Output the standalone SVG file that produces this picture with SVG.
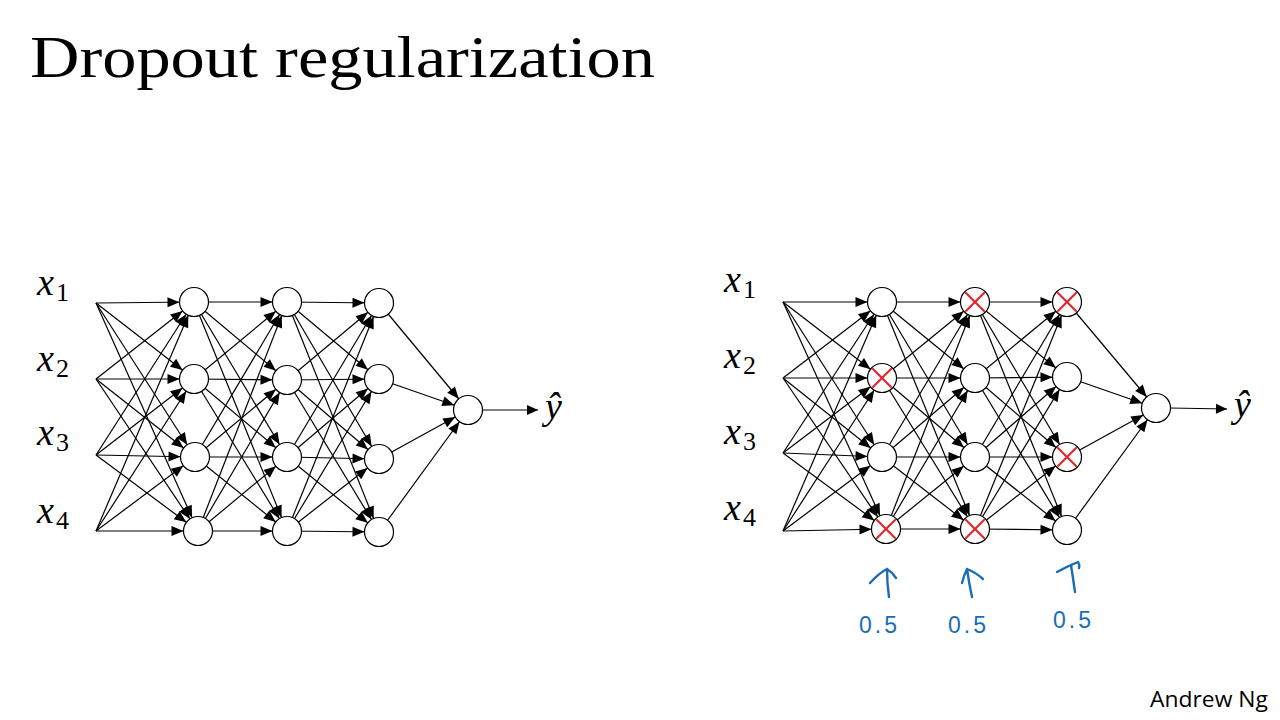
<svg xmlns="http://www.w3.org/2000/svg" width="1280" height="720" viewBox="0 0 1280 720">
<style>
.e{stroke:#000;stroke-width:1.2;fill:none;marker-end:url(#ah)}
.o{stroke:#000;stroke-width:1.2;fill:none;marker-end:url(#tip)}
.n{fill:#fff;stroke:#000;stroke-width:1.2}
.x{stroke:#e3262b;stroke-width:2.2;stroke-linecap:round}
.lbl{font-family:"Liberation Serif","DejaVu Serif",serif;font-style:italic;font-size:38px;fill:#000}
.sub{font-size:26px;font-style:normal}
.hw{stroke:#1a6db5;stroke-width:2.4;fill:none;stroke-linecap:round;stroke-linejoin:round}
.hwt{font-family:"Liberation Sans",sans-serif;font-size:23px;fill:#1a6db5;letter-spacing:3px}
</style>
<defs>
<marker id="ah" markerUnits="userSpaceOnUse" viewBox="0 -6 30 12" markerWidth="30" markerHeight="12" refX="26.5" refY="0" orient="auto" overflow="visible">
<path d="M0,-5 L12,0 L0,5 z" fill="#000"/>
</marker>
<marker id="tip" markerUnits="userSpaceOnUse" viewBox="0 -6 14 12" markerWidth="14" markerHeight="12" refX="11" refY="0" orient="auto" overflow="visible">
<path d="M0,-5 L11,0 L0,5 z" fill="#000"/>
</marker>
</defs>
<rect width="1280" height="720" fill="#fff"/>
<text x="30" y="77" font-family="Liberation Serif,DejaVu Serif,serif" font-size="60" textLength="625" lengthAdjust="spacingAndGlyphs">Dropout regularization</text>

<g id="connectors">
<line class="e" x1="96" y1="303" x2="194" y2="302"/><line class="e" x1="96" y1="303" x2="194" y2="379"/><line class="e" x1="96" y1="303" x2="195" y2="457"/><line class="e" x1="96" y1="303" x2="198" y2="531"/>
<line class="e" x1="96" y1="379" x2="194" y2="302"/><line class="e" x1="96" y1="379" x2="194" y2="379"/><line class="e" x1="96" y1="379" x2="195" y2="457"/><line class="e" x1="96" y1="379" x2="198" y2="531"/>
<line class="e" x1="96" y1="455" x2="194" y2="302"/><line class="e" x1="96" y1="455" x2="194" y2="379"/><line class="e" x1="96" y1="455" x2="195" y2="457"/><line class="e" x1="96" y1="455" x2="198" y2="531"/>
<line class="e" x1="96" y1="531" x2="194" y2="302"/><line class="e" x1="96" y1="531" x2="194" y2="379"/><line class="e" x1="96" y1="531" x2="195" y2="457"/><line class="e" x1="96" y1="531" x2="198" y2="531"/>
<line class="e" x1="194" y1="302" x2="287" y2="302"/><line class="e" x1="194" y1="302" x2="287" y2="380"/><line class="e" x1="194" y1="302" x2="287" y2="457"/><line class="e" x1="194" y1="302" x2="287" y2="531"/>
<line class="e" x1="194" y1="379" x2="287" y2="302"/><line class="e" x1="194" y1="379" x2="287" y2="380"/><line class="e" x1="194" y1="379" x2="287" y2="457"/><line class="e" x1="194" y1="379" x2="287" y2="531"/>
<line class="e" x1="195" y1="457" x2="287" y2="302"/><line class="e" x1="195" y1="457" x2="287" y2="380"/><line class="e" x1="195" y1="457" x2="287" y2="457"/><line class="e" x1="195" y1="457" x2="287" y2="531"/>
<line class="e" x1="198" y1="531" x2="287" y2="302"/><line class="e" x1="198" y1="531" x2="287" y2="380"/><line class="e" x1="198" y1="531" x2="287" y2="457"/><line class="e" x1="198" y1="531" x2="287" y2="531"/>
<line class="e" x1="287" y1="302" x2="379" y2="303"/><line class="e" x1="287" y1="302" x2="379" y2="379"/><line class="e" x1="287" y1="302" x2="379" y2="459"/><line class="e" x1="287" y1="302" x2="379" y2="532"/>
<line class="e" x1="287" y1="380" x2="379" y2="303"/><line class="e" x1="287" y1="380" x2="379" y2="379"/><line class="e" x1="287" y1="380" x2="379" y2="459"/><line class="e" x1="287" y1="380" x2="379" y2="532"/>
<line class="e" x1="287" y1="457" x2="379" y2="303"/><line class="e" x1="287" y1="457" x2="379" y2="379"/><line class="e" x1="287" y1="457" x2="379" y2="459"/><line class="e" x1="287" y1="457" x2="379" y2="532"/>
<line class="e" x1="287" y1="531" x2="379" y2="303"/><line class="e" x1="287" y1="531" x2="379" y2="379"/><line class="e" x1="287" y1="531" x2="379" y2="459"/><line class="e" x1="287" y1="531" x2="379" y2="532"/>
<line class="e" x1="379" y1="303" x2="468" y2="410"/><line class="e" x1="379" y1="379" x2="468" y2="410"/><line class="e" x1="379" y1="459" x2="468" y2="410"/><line class="e" x1="379" y1="532" x2="468" y2="410"/>
<line class="o" x1="482" y1="410" x2="538" y2="410"/>

<line class="e" x1="783" y1="302" x2="882" y2="302"/><line class="e" x1="783" y1="302" x2="882" y2="378"/><line class="e" x1="783" y1="302" x2="882" y2="457"/><line class="e" x1="783" y1="302" x2="886" y2="529"/>
<line class="e" x1="783" y1="378" x2="882" y2="302"/><line class="e" x1="783" y1="378" x2="882" y2="378"/><line class="e" x1="783" y1="378" x2="882" y2="457"/><line class="e" x1="783" y1="378" x2="886" y2="529"/>
<line class="e" x1="783" y1="453" x2="882" y2="302"/><line class="e" x1="783" y1="453" x2="882" y2="378"/><line class="e" x1="783" y1="453" x2="882" y2="457"/><line class="e" x1="783" y1="453" x2="886" y2="529"/>
<line class="e" x1="783" y1="531" x2="882" y2="302"/><line class="e" x1="783" y1="531" x2="882" y2="378"/><line class="e" x1="783" y1="531" x2="882" y2="457"/><line class="e" x1="783" y1="531" x2="886" y2="529"/>
<line class="e" x1="882" y1="302" x2="975" y2="302"/><line class="e" x1="882" y1="302" x2="975" y2="378"/><line class="e" x1="882" y1="302" x2="975" y2="457"/><line class="e" x1="882" y1="302" x2="975" y2="529"/>
<line class="e" x1="882" y1="378" x2="975" y2="302"/><line class="e" x1="882" y1="378" x2="975" y2="378"/><line class="e" x1="882" y1="378" x2="975" y2="457"/><line class="e" x1="882" y1="378" x2="975" y2="529"/>
<line class="e" x1="882" y1="457" x2="975" y2="302"/><line class="e" x1="882" y1="457" x2="975" y2="378"/><line class="e" x1="882" y1="457" x2="975" y2="457"/><line class="e" x1="882" y1="457" x2="975" y2="529"/>
<line class="e" x1="886" y1="529" x2="975" y2="302"/><line class="e" x1="886" y1="529" x2="975" y2="378"/><line class="e" x1="886" y1="529" x2="975" y2="457"/><line class="e" x1="886" y1="529" x2="975" y2="529"/>
<line class="e" x1="975" y1="302" x2="1067" y2="302"/><line class="e" x1="975" y1="302" x2="1067" y2="377"/><line class="e" x1="975" y1="302" x2="1067" y2="457"/><line class="e" x1="975" y1="302" x2="1067" y2="530"/>
<line class="e" x1="975" y1="378" x2="1067" y2="302"/><line class="e" x1="975" y1="378" x2="1067" y2="377"/><line class="e" x1="975" y1="378" x2="1067" y2="457"/><line class="e" x1="975" y1="378" x2="1067" y2="530"/>
<line class="e" x1="975" y1="457" x2="1067" y2="302"/><line class="e" x1="975" y1="457" x2="1067" y2="377"/><line class="e" x1="975" y1="457" x2="1067" y2="457"/><line class="e" x1="975" y1="457" x2="1067" y2="530"/>
<line class="e" x1="975" y1="529" x2="1067" y2="302"/><line class="e" x1="975" y1="529" x2="1067" y2="377"/><line class="e" x1="975" y1="529" x2="1067" y2="457"/><line class="e" x1="975" y1="529" x2="1067" y2="530"/>
<line class="e" x1="1067" y1="302" x2="1156" y2="408"/><line class="e" x1="1067" y1="377" x2="1156" y2="408"/><line class="e" x1="1067" y1="457" x2="1156" y2="408"/><line class="e" x1="1067" y1="530" x2="1156" y2="408"/>
<line class="o" x1="1170" y1="408" x2="1227" y2="409"/>
</g>

<g id="L-a1"><circle class="n" cx="194" cy="302" r="14.5"/></g>
<g id="L-a2"><circle class="n" cx="194" cy="379" r="14.5"/></g>
<g id="L-a3"><circle class="n" cx="195" cy="457" r="14.5"/></g>
<g id="L-a4"><circle class="n" cx="198" cy="531" r="14.5"/></g>
<g id="L-b1"><circle class="n" cx="287" cy="302" r="14.5"/></g>
<g id="L-b2"><circle class="n" cx="287" cy="380" r="14.5"/></g>
<g id="L-b3"><circle class="n" cx="287" cy="457" r="14.5"/></g>
<g id="L-b4"><circle class="n" cx="287" cy="531" r="14.5"/></g>
<g id="L-c1"><circle class="n" cx="379" cy="303" r="14.5"/></g>
<g id="L-c2"><circle class="n" cx="379" cy="379" r="14.5"/></g>
<g id="L-c3"><circle class="n" cx="379" cy="459" r="14.5"/></g>
<g id="L-c4"><circle class="n" cx="379" cy="532" r="14.5"/></g>
<g id="L-out"><circle class="n" cx="468" cy="410" r="14.5"/></g>

<g id="L-inputs">
<text class="lbl" x="37" y="295">x<tspan class="sub" dx="2" dy="6">1</tspan></text>
<text class="lbl" x="37" y="371">x<tspan class="sub" dx="2" dy="6">2</tspan></text>
<text class="lbl" x="37" y="445">x<tspan class="sub" dx="2" dy="6">3</tspan></text>
<text class="lbl" x="37" y="523">x<tspan class="sub" dx="2" dy="6">4</tspan></text>
</g>
<g id="L-yhat"><text class="lbl" x="545" y="419">ŷ</text></g>

<g id="R-a1"><circle class="n" cx="882" cy="302" r="14.5"/></g>
<g id="R-a2"><circle class="n" cx="882" cy="378" r="14.5"/><line class="x" x1="873" y1="369" x2="891" y2="387"/><line class="x" x1="891" y1="369" x2="873" y2="387"/></g>
<g id="R-a3"><circle class="n" cx="882" cy="457" r="14.5"/></g>
<g id="R-a4"><circle class="n" cx="886" cy="529" r="14.5"/><line class="x" x1="877" y1="520" x2="895" y2="538"/><line class="x" x1="895" y1="520" x2="877" y2="538"/></g>
<g id="R-b1"><circle class="n" cx="975" cy="302" r="14.5"/><line class="x" x1="966" y1="293" x2="984" y2="311"/><line class="x" x1="984" y1="293" x2="966" y2="311"/></g>
<g id="R-b2"><circle class="n" cx="975" cy="378" r="14.5"/></g>
<g id="R-b3"><circle class="n" cx="975" cy="457" r="14.5"/></g>
<g id="R-b4"><circle class="n" cx="975" cy="529" r="14.5"/><line class="x" x1="966" y1="520" x2="984" y2="538"/><line class="x" x1="984" y1="520" x2="966" y2="538"/></g>
<g id="R-c1"><circle class="n" cx="1067" cy="302" r="14.5"/><line class="x" x1="1058" y1="293" x2="1076" y2="311"/><line class="x" x1="1076" y1="293" x2="1058" y2="311"/></g>
<g id="R-c2"><circle class="n" cx="1067" cy="377" r="14.5"/></g>
<g id="R-c3"><circle class="n" cx="1067" cy="457" r="14.5"/><line class="x" x1="1058" y1="448" x2="1076" y2="466"/><line class="x" x1="1076" y1="448" x2="1058" y2="466"/></g>
<g id="R-c4"><circle class="n" cx="1067" cy="530" r="14.5"/></g>
<g id="R-out"><circle class="n" cx="1156" cy="408" r="14.5"/></g>

<g id="R-inputs">
<text class="lbl" x="724" y="292">x<tspan class="sub" dx="2" dy="6">1</tspan></text>
<text class="lbl" x="724" y="368">x<tspan class="sub" dx="2" dy="6">2</tspan></text>
<text class="lbl" x="724" y="444">x<tspan class="sub" dx="2" dy="6">3</tspan></text>
<text class="lbl" x="724" y="520">x<tspan class="sub" dx="2" dy="6">4</tspan></text>
</g>
<g id="R-yhat"><text class="lbl" x="1234" y="417">ŷ</text></g>

<g id="note1">
<path class="hw" d="M889,597 Q887,583 887,569 M870,583 Q879,573 887,569 Q892,572 896,578"/>
<text class="hwt" x="859" y="633">0.5</text>
</g>
<g id="note2">
<path class="hw" d="M972,597 Q969,583 967,569 M962,583 Q964,575 967,569 Q975,572 983,579"/>
<text class="hwt" x="948" y="633">0.5</text>
</g>
<g id="note3">
<path class="hw" d="M1075,592 Q1073,578 1071,565 M1057,572 Q1068,566 1078,562 Q1080,565 1079,568"/>
<text class="hwt" x="1053" y="628">0.5</text>
</g>

<text x="1150" y="707" font-family="Open Sans,Liberation Sans,sans-serif" font-size="21" textLength="118" lengthAdjust="spacingAndGlyphs" fill="#000">Andrew Ng</text>
</svg>
